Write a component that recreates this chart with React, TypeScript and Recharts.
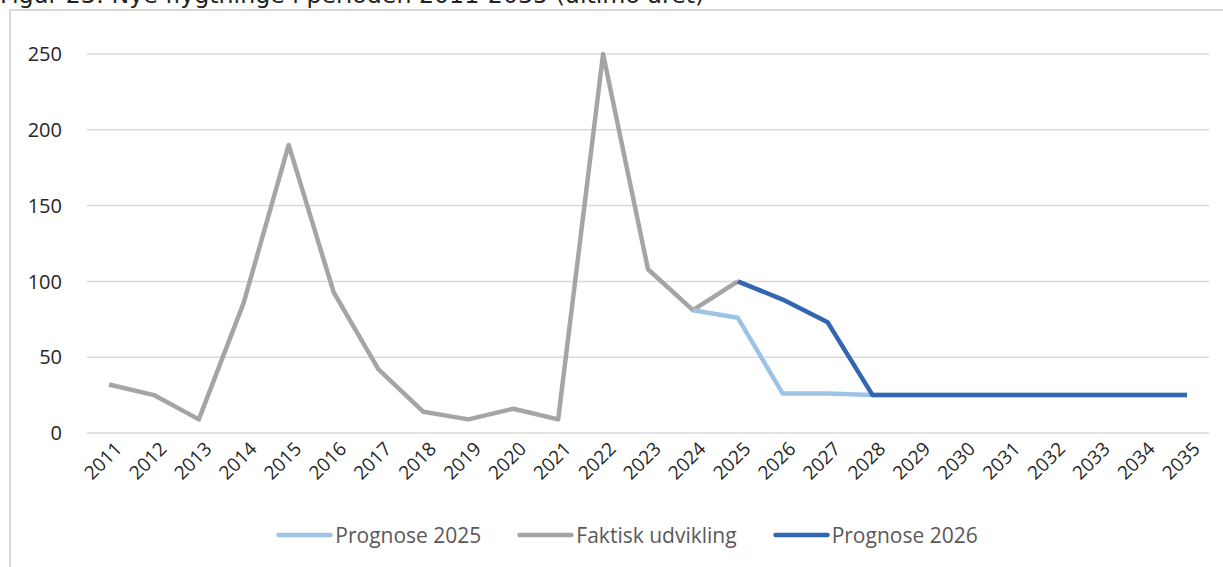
import React from "react"
import { LineChart, Line, XAxis, YAxis, CartesianGrid, Legend } from "recharts"

const years = [
  "2011", "2012", "2013", "2014", "2015", "2016", "2017", "2018", "2019",
  "2020", "2021", "2022", "2023", "2024", "2025", "2026", "2027", "2028",
  "2029", "2030", "2031", "2032", "2033", "2034", "2035",
]
const faktisk = [32, 25, 9, 86, 190, 93, 42, 14, 9, 16, 9, 250, 108, 81, 100]
const prognose2025 = [
  null, null, null, null, null, null, null, null, null, null, null, null, null,
  81, 76, 26, 26, 25, 25, 25, 25, 25, 25, 25, 25,
]
const prognose2026 = [
  null, null, null, null, null, null, null, null, null, null, null, null, null, null,
  100, 88, 73, 25, 25, 25, 25, 25, 25, 25, 25,
]
const yTicks = [0, 50, 100, 150, 200, 250]

const data = years.map((year, i) => ({
  year,
  faktisk: i < faktisk.length ? faktisk[i] : null,
  p2025: prognose2025[i],
  p2026: prognose2026[i],
}))

const legendItems = [
  { label: "Prognose 2025", color: "#9DC3E6" },
  { label: "Faktisk udvikling", color: "#A5A5A5" },
  { label: "Prognose 2026", color: "#3266B2" },
]

const FONT = "'Open Sans', sans-serif"

const XTick = (props: any) => {
  const { x, y, payload } = props
  return (
    <g transform={`translate(${x + 7},${y + 2})`}>
      <text x={0} y={0} dy={10} textAnchor="end" transform="rotate(-45)" fill="#262626" fontSize={19} fontFamily={FONT}>
        {payload.value}
      </text>
    </g>
  )
}

const renderLegend = () => (
  <div style={{ display: "flex", justifyContent: "center", alignItems: "center", paddingLeft: 31, fontFamily: FONT, fontSize: 21, color: "#595959" }}>
    {legendItems.map((item) => (
      <div key={item.label} style={{ display: "flex", alignItems: "center", margin: "0 18px" }}>
        <svg width={57} height={8} style={{ marginRight: 2 }}>
          <line x1={2.5} y1={4} x2={54.5} y2={4} stroke={item.color} strokeWidth={4.5} strokeLinecap="round" />
        </svg>
        <span>{item.label}</span>
      </div>
    ))}
  </div>
)

export default function App() {
  return (
    <div style={{ position: "absolute", left: 0, top: 0, width: 1223, height: 567, overflow: "hidden", background: "#fff" }}>
      <div
        style={{
          position: "absolute",
          left: 0,
          top: -16,
          fontFamily: "'DejaVu Sans', sans-serif",
          fontSize: 23.7,
          lineHeight: "23.7px",
          color: "#222",
          whiteSpace: "nowrap",
        }}
      >
        Figur 23: Nye flygtninge i perioden 2011-2035 (ultimo året)
      </div>
      <div
        style={{
          position: "absolute",
          left: 9,
          top: 9,
          width: 1260,
          height: 620,
          border: "2px solid #D9D9D9",
        }}
      />
      <div style={{ position: "absolute", left: 0, top: 0 }}>
        <LineChart width={1223} height={567} data={data} margin={{ top: 54, right: 14, bottom: 26, left: 0 }}>
          <CartesianGrid vertical={false} stroke="#D9D9D9" strokeWidth={1.5} />
          <XAxis
            dataKey="year"
            axisLine={false}
            tickLine={false}
            interval={0}
            tick={<XTick />}
            height={80}
            padding={{ left: 22, right: 22 }}
          />
          <YAxis
            domain={[0, 250]}
            ticks={yTicks}
            axisLine={false}
            tickLine={false}
            width={87}
            tickMargin={19}
            tick={{ fill: "#262626", fontSize: 20, fontFamily: FONT }}
          />
          <Legend content={renderLegend} wrapperStyle={{ top: 521, left: 0, width: 1223 }} />
          <Line dataKey="faktisk" stroke="#A5A5A5" strokeWidth={4.5} dot={false} isAnimationActive={false} strokeLinejoin="round" />
          <Line dataKey="p2025" stroke="#9DC3E6" strokeWidth={4.5} dot={false} isAnimationActive={false} strokeLinejoin="round" />
          <Line dataKey="p2026" stroke="#3266B2" strokeWidth={4.5} dot={false} isAnimationActive={false} strokeLinejoin="round" />
        </LineChart>
      </div>
    </div>
  )
}
